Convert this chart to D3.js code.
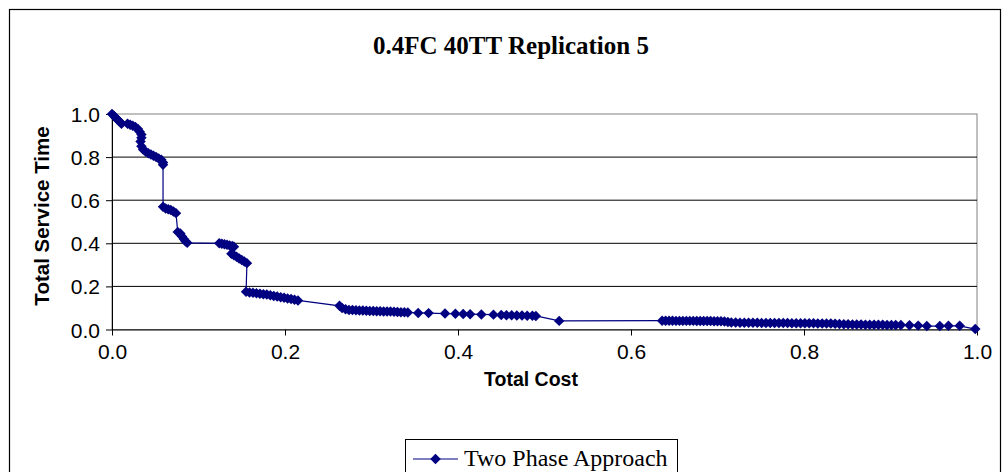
<!DOCTYPE html>
<html>
<head>
<meta charset="utf-8">
<script src="https://cdn.jsdelivr.net/npm/d3@7"></script>
<style>
  body { margin: 0; background: #fff; }
  svg { display: block; }
</style>
</head>
<body>
<svg width="1004" height="472"></svg>
<script>
// Chart values
const chartTitle = '0.4FC 40TT Replication 5';
const xLabel = 'Total Cost';
const yLabel = 'Total Service Time';
const seriesName = 'Two Phase Approach';
const xTicks = [0, 0.2, 0.4, 0.6, 0.8, 1.0];
const yTicks = [0, 0.2, 0.4, 0.6, 0.8, 1.0];

const totalCost = [
  0.000, 0.002, 0.004, 0.006, 0.008, 0.010, 0.011,
  0.018, 0.021, 0.024, 0.027, 0.030, 0.032, 0.034, 0.034,
  0.033, 0.034, 0.036, 0.039, 0.042, 0.045, 0.048, 0.051, 0.054, 0.057, 0.059, 0.059,
  0.059, 0.062, 0.065, 0.068, 0.071, 0.074,
  0.076, 0.079, 0.081, 0.083, 0.085, 0.087,
  0.124, 0.127, 0.130, 0.133, 0.136, 0.139, 0.141,
  0.138, 0.141, 0.144, 0.147, 0.150, 0.153, 0.156,
  0.155, 0.159, 0.163, 0.167, 0.171, 0.175, 0.179, 0.183, 0.187, 0.191,
  0.195, 0.199, 0.203, 0.207, 0.211, 0.215,
  0.263, 0.266, 0.270, 0.274, 0.278, 0.282, 0.286, 0.290, 0.294, 0.298,
  0.302, 0.306, 0.310, 0.314, 0.318, 0.322, 0.326, 0.330, 0.334, 0.338, 0.342,
  0.354, 0.366, 0.385, 0.397, 0.406, 0.414, 0.427, 0.441,
  0.450, 0.456, 0.462, 0.468, 0.474, 0.480, 0.486, 0.490,
  0.517,
  0.636, 0.640, 0.644, 0.648, 0.652, 0.656, 0.660, 0.664, 0.668, 0.672,
  0.676, 0.680, 0.684, 0.688, 0.692, 0.696, 0.700, 0.704, 0.708, 0.712,
  0.716, 0.721, 0.726, 0.731, 0.736, 0.741, 0.746, 0.751, 0.756, 0.761,
  0.766, 0.771, 0.776, 0.781, 0.786, 0.791, 0.796, 0.801, 0.806, 0.811,
  0.816, 0.821, 0.826, 0.831, 0.836, 0.841, 0.846, 0.851, 0.856, 0.861,
  0.866, 0.871, 0.876, 0.881, 0.886, 0.891, 0.896, 0.901, 0.906, 0.912,
  0.922, 0.932, 0.942, 0.957, 0.967, 0.980, 0.998
];
const serviceTime = [
  1.000, 0.992, 0.984, 0.976, 0.968, 0.960, 0.955,
  0.955, 0.950, 0.945, 0.940, 0.930, 0.918, 0.905, 0.890,
  0.872, 0.850, 0.835, 0.825, 0.818, 0.812, 0.806, 0.800, 0.794, 0.788, 0.775, 0.765,
  0.570, 0.562, 0.558, 0.554, 0.548, 0.540,
  0.452, 0.445, 0.432, 0.420, 0.410, 0.402,
  0.400, 0.398, 0.396, 0.393, 0.390, 0.387, 0.384,
  0.352, 0.345, 0.338, 0.330, 0.322, 0.315, 0.308,
  0.175, 0.172, 0.170, 0.168, 0.166, 0.164, 0.162, 0.159, 0.156, 0.153,
  0.150, 0.147, 0.144, 0.141, 0.138, 0.135,
  0.110, 0.100, 0.094, 0.091, 0.090, 0.089, 0.088, 0.088, 0.087, 0.086,
  0.086, 0.085, 0.085, 0.084, 0.084, 0.083, 0.082, 0.081, 0.080, 0.080, 0.079,
  0.077, 0.076, 0.074, 0.073, 0.072, 0.071, 0.070, 0.069,
  0.067, 0.066, 0.066, 0.065, 0.065, 0.064, 0.064, 0.063,
  0.040,
  0.041, 0.041, 0.041, 0.041, 0.040, 0.040, 0.040, 0.040, 0.040, 0.040,
  0.039, 0.039, 0.039, 0.039, 0.039, 0.038, 0.038, 0.038, 0.037, 0.035,
  0.032, 0.032, 0.031, 0.031, 0.031, 0.031, 0.031, 0.030, 0.030, 0.030,
  0.030, 0.030, 0.030, 0.030, 0.029, 0.029, 0.029, 0.029, 0.029, 0.029,
  0.028, 0.028, 0.028, 0.028, 0.027, 0.026, 0.024, 0.024, 0.023, 0.023,
  0.023, 0.022, 0.022, 0.022, 0.022, 0.022, 0.021, 0.021, 0.021, 0.021,
  0.020, 0.018, 0.016, 0.016, 0.017, 0.017, 0.002
];

const data = totalCost.map((c, i) => ({ cost: c, time: serviceTime[i] }));

const svg = d3.select('svg');
const plot = { left: 112, right: 977, top: 114, bottom: 329.5 };
const navy = '#000080';
const sans = 'Arial, "Liberation Sans", sans-serif';
const serif = '"Times New Roman", "Liberation Serif", serif';

// Outer chart frame
svg.append('rect')
    .attr('x', 9.5).attr('y', 9.5)
    .attr('width', 991).attr('height', 480)
    .attr('fill', 'none')
    .attr('stroke', '#000')
    .attr('stroke-width', 1.2);

const x = d3.scaleLinear().domain([0, 1]).range([plot.left, plot.right]);
const y = d3.scaleLinear().domain([0, 1]).range([plot.bottom, plot.top]);

// Plot area border (gray) and gridlines
svg.append('rect')
    .attr('x', plot.left).attr('y', plot.top)
    .attr('width', plot.right - plot.left).attr('height', plot.bottom - plot.top)
    .attr('fill', 'none')
    .attr('stroke', '#808080');

svg.append('g')
    .selectAll('line')
    .data(yTicks.filter(t => t > 0 && t < 1))
    .join('line')
    .attr('x1', plot.left).attr('x2', plot.right)
    .attr('y1', d => y(d)).attr('y2', d => y(d))
    .attr('stroke', '#000');

// Axes
const xAxis = d3.axisBottom(x).tickValues(xTicks).tickFormat(d3.format('.1f')).tickSize(6).tickSizeOuter(0);
const yAxis = d3.axisLeft(y).tickValues(yTicks).tickFormat(d3.format('.1f')).tickSize(6).tickSizeOuter(0);

const gx = svg.append('g')
    .attr('transform', `translate(0,${plot.bottom})`)
    .call(xAxis);
const gy = svg.append('g')
    .attr('transform', `translate(${plot.left},0)`)
    .call(yAxis);

[gx, gy].forEach(g => {
    g.select('.domain').attr('stroke', '#000');
    g.selectAll('.tick line').attr('stroke', '#000');
    g.selectAll('.tick text')
        .attr('fill', '#000')
        .style('font-family', sans)
        .style('font-size', '21px');
});
gx.selectAll('.tick text').attr('y', 10).attr('dy', '0.95em');
gy.selectAll('.tick text').attr('x', -12).attr('dy', '0.36em');

// Series line and markers
const line = d3.line().x(d => x(d.cost)).y(d => y(d.time));
svg.append('path')
    .datum(data)
    .attr('d', line)
    .attr('fill', 'none')
    .attr('stroke', navy)
    .attr('stroke-width', 1.2);

// Excel-style diamond: a square turned by 45 degrees
const diamond = d3.symbol().type(d3.symbolSquare).size(55);
svg.append('g')
    .selectAll('path')
    .data(data)
    .join('path')
    .attr('transform', d => `translate(${x(d.cost)},${y(d.time)}) rotate(45)`)
    .attr('d', diamond)
    .attr('fill', navy);

// Titles
svg.append('text')
    .attr('x', 511).attr('y', 54)
    .attr('text-anchor', 'middle')
    .style('font-family', serif)
    .style('font-weight', 'bold')
    .style('font-size', '25px')
    .text(chartTitle);

svg.append('text')
    .attr('x', 531).attr('y', 386)
    .attr('text-anchor', 'middle')
    .style('font-family', sans)
    .style('font-weight', 'bold')
    .style('font-size', '19.5px')
    .text(xLabel);

svg.append('text')
    .attr('transform', `translate(49,216) rotate(-90)`)
    .attr('text-anchor', 'middle')
    .style('font-family', sans)
    .style('font-weight', 'bold')
    .style('font-size', '20.5px')
    .text(yLabel);

// Legend
const legend = svg.append('g').attr('transform', 'translate(405,439)');
legend.append('rect')
    .attr('x', 0.5).attr('y', 0.5)
    .attr('width', 272).attr('height', 45)
    .attr('fill', '#fff')
    .attr('stroke', '#000');
legend.append('line')
    .attr('x1', 8).attr('x2', 53)
    .attr('y1', 20).attr('y2', 20)
    .attr('stroke', navy)
    .attr('stroke-width', 1.2);
legend.append('path')
    .attr('transform', 'translate(30.5,20) rotate(45)')
    .attr('d', diamond)
    .attr('fill', navy);
legend.append('text')
    .attr('x', 59).attr('y', 27)
    .style('font-family', serif)
    .style('font-size', '24px')
    .text(seriesName);
</script>
</body>
</html>
